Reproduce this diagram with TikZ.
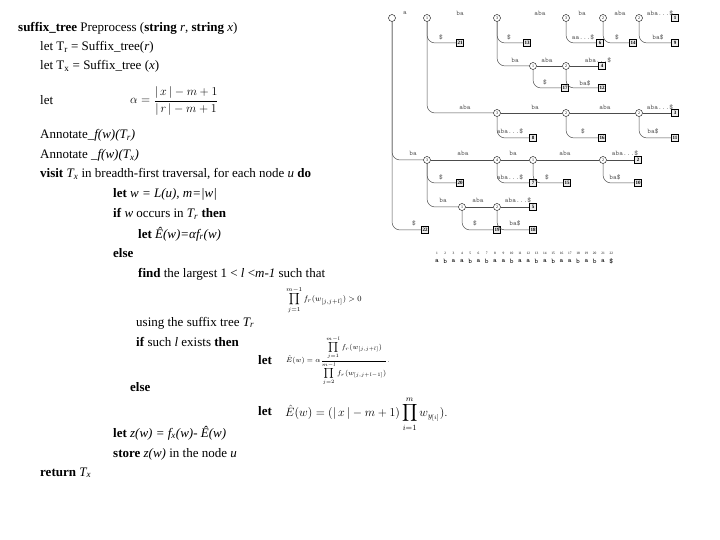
\documentclass[tikz,border=0pt]{standalone}
\usepackage{fontspec}
\setmainfont{Liberation Serif}
\usepackage{amsmath}
\begin{document}
\begin{tikzpicture}[x=1pt,y=-1pt,
  txt/.style={anchor=base west,inner sep=0pt,font=\fontsize{13}{15}\selectfont},
  circ/.style={draw,circle,inner sep=0pt,minimum size=7pt,font=\fontsize{4}{4}\selectfont},
  leaf/.style={draw,fill=gray!15,inner sep=0.6pt,minimum size=7pt,font=\fontsize{5}{5}\selectfont\bfseries},
  lab/.style={font=\fontsize{7}{7}\selectfont\ttfamily,inner sep=0pt,gray!70!black},
  edge/.style={gray!60!black,line width=0.5pt},
  cedge/.style={edge,rounded corners=8pt}]
\useasboundingbox (0,0) rectangle (720,540);
% ---------- left text ----------
\node[txt] (t1) at (18,32) {\textbf{suffix\_tree} Preprocess (\textbf{string} \textit{r}, \textbf{string} \textit{x})};
\node[txt] (t2) at (40,51) {let T\textsubscript{r} = Suffix\_tree(\textit{r})};
\node[txt] (t3) at (40,70) {let T\textsubscript{x} = Suffix\_tree (\textit{x})};
\node[txt] (t4) at (40,105) {let};
\node[anchor=west,inner sep=0pt,font=\large] (fa) at (130,101) {$\alpha = \dfrac{|\,x\,| - m + 1}{|\,r\,| - m + 1}$};
\node[txt] (t5) at (40,139) {Annotate\_\textit{f(w)(T\textsubscript{r})}};
\node[txt] (t6) at (40,159) {Annotate \_\textit{f(w)(T\textsubscript{x})}};
\node[txt] (t7) at (40,178) {\textbf{visit} \textit{T\textsubscript{x}} in breadth-first traversal, for each node \textit{u} \textbf{do}};
\node[txt] (t8) at (113,198) {\textbf{let} \textit{w = L(u), m=|w|}};
\node[txt] (t9) at (113,218) {\textbf{if} \textit{w} occurs in \textit{T\textsubscript{r}} \textbf{then}};
\node[txt] (t10) at (138,238) {\textbf{let} \textit{Ê(w)=αf\textsubscript{r}(w)}};
\node[txt] (t11) at (113,257) {\textbf{else}};
\node[txt] (t12) at (138,277) {\textbf{find} the largest 1 < \textit{l} <\textit{m-1} such that};
\node[anchor=west,inner sep=0pt,font=\footnotesize] (f2) at (286,300) {$\displaystyle\prod_{j=1}^{m-1} f_r(w_{[j,j+l]}) > 0$};
\node[txt] (t13) at (136,326) {using the suffix tree \textit{T\textsubscript{r}}};
\node[txt] (t14) at (136,346) {\textbf{if} such \textit{l} exists \textbf{then}};
\node[txt] (t15) at (258,364) {\textbf{let}};
\node[anchor=west,inner sep=0pt,font=\scriptsize] (f3) at (286,361) {$\hat E(w)=\alpha\dfrac{\displaystyle\prod_{j=1}^{m-l} f_r(w_{[j,j+l]})}{\displaystyle\prod_{j=2}^{m-l} f_r(w_{[j,j+l-1]})}.$};
\node[txt] (t16) at (130,391) {\textbf{else}};
\node[txt] (t17) at (258,415) {\textbf{let}};
\node[anchor=west,inner sep=0pt,font=\large] (f4) at (285,414) {$\displaystyle\hat E(w)=(|\,x\,|-m+1)\prod_{i=1}^{m} w_{y_{[i]}}).$};
\node[txt] (t18) at (113,437) {\textbf{let} \textit{z(w) = f\textsubscript{x}(w)- Ê(w)}};
\node[txt] (t19) at (113,457) {\textbf{store} \textit{z(w)} in the node \textit{u}};
\node[txt] (t20) at (40,476) {\textbf{return} \textit{T\textsubscript{x}}};
% ---------- suffix tree ----------
\node[circ] (r) at (392,18) {};
\node[circ] (a1) at (427,18) {1};
\node[circ] (a2) at (497,18) {3};
\node[circ] (a3) at (566,18) {3};
\node[circ] (a4) at (603,18) {2};
\node[circ] (a5) at (639,18) {2};
\node[leaf] (l1) at (675,18) {1};
\node[leaf] (l21) at (460,43) {21};
\node[leaf] (l13) at (527,43) {13};
\node[leaf] (l6) at (600,43) {6};
\node[leaf] (l14) at (633,43) {14};
\node[leaf] (l9) at (675,43) {9};
\node[circ] (b1) at (533,66) {1};
\node[circ] (b2) at (566,66) {2};
\node[leaf] (l4) at (602,66) {4};
\node[leaf] (l17) at (565,88) {17};
\node[leaf] (l12) at (602,88) {12};
\node[circ] (c1) at (497,113) {3};
\node[circ] (c2) at (566,113) {2};
\node[circ] (c3) at (639,113) {2};
\node[leaf] (l3) at (675,113) {3};
\node[leaf] (l8) at (533,138) {8};
\node[leaf] (l16) at (602,138) {16};
\node[leaf] (l11) at (675,138) {11};
\node[circ] (d1) at (427,160) {3};
\node[circ] (d2) at (497,160) {4};
\node[circ] (d3) at (533,160) {1};
\node[circ] (d4) at (603,160) {2};
\node[leaf] (l2) at (638,160) {2};
\node[leaf] (l20) at (460,183) {20};
\node[leaf] (l7) at (533,183) {7};
\node[leaf] (l15) at (567,183) {15};
\node[leaf] (l10) at (638,183) {10};
\node[circ] (e1) at (462,207) {1};
\node[circ] (e2) at (497,207) {2};
\node[leaf] (l5) at (533,207) {5};
\node[leaf] (l22) at (425,230) {22};
\node[leaf] (l19) at (497,230) {19};
\node[leaf] (l18) at (533,230) {18};
% horizontal edges
\draw[edge] (c1)--(c2); \draw[edge] (c2)--(c3); \draw[edge] (c3)--(l3);
\draw[edge] (b1)--(b2); \draw[edge] (b2)--(l4);
\draw[edge] (d1)--(d2); \draw[edge] (d2)--(d3); \draw[edge] (d3)--(d4); \draw[edge] (d4)--(l2);
\draw[edge] (e1)--(e2); \draw[edge] (e2)--(l5);
% curved edges
\draw[cedge] (a1) |- (l21);
\draw[cedge] (a1) |- (c1);
\draw[cedge] (a2) |- (l13);
\draw[cedge] (a2) |- (b1);
\draw[cedge] (a3) |- (l6);
\draw[cedge] (a4) |- (l14);
\draw[cedge] (a5) |- (l9);
\draw[cedge] (b1) |- (l17);
\draw[cedge] (b2) |- (l12);
\draw[cedge] (c1) |- (l8);
\draw[cedge] (c2) |- (l16);
\draw[cedge] (c3) |- (l11);
\draw[cedge] (r) |- (d1);
\draw[cedge] (r) |- (l22);
\draw[cedge] (d1) |- (l20);
\draw[cedge] (d1) |- (e1);
\draw[cedge] (d2) |- (l7);
\draw[cedge] (d3) |- (l15);
\draw[cedge] (d4) |- (l10);
\draw[cedge] (e1) |- (l19);
\draw[cedge] (e2) |- (l18);
% edge labels
\node[lab] at (405,13) {a};
\node[lab] at (460,13) {ba};
\node[lab] at (540,13) {aba};
\node[lab] at (582,13) {ba};
\node[lab] at (620,13) {aba};
\node[lab] at (660,13) {aba...\$};
\node[lab] at (441,37) {\$};
\node[lab] at (509,37) {\$};
\node[lab] at (583,37) {aa...\$};
\node[lab] at (617,37) {\$};
\node[lab] at (658,37) {ba\$};
\node[lab] at (515,60) {ba};
\node[lab] at (547,60) {aba};
\node[lab] at (598,60) {aba...\$};
\node[lab] at (545,82) {\$};
\node[lab] at (585,83) {ba\$};
\node[lab] at (465,107) {aba};
\node[lab] at (535,107) {ba};
\node[lab] at (605,107) {aba};
\node[lab] at (660,107) {aba...\$};
\node[lab] at (510,131) {aba...\$};
\node[lab] at (583,131) {\$};
\node[lab] at (653,131) {ba\$};
\node[lab] at (413,153) {ba};
\node[lab] at (463,153) {aba};
\node[lab] at (513,153) {ba};
\node[lab] at (565,153) {aba};
\node[lab] at (625,153) {aba...\$};
\node[lab] at (441,177) {\$};
\node[lab] at (510,177) {aba...\$};
\node[lab] at (547,177) {\$};
\node[lab] at (615,177) {ba\$};
\node[lab] at (443,200) {ba};
\node[lab] at (478,200) {aba};
\node[lab] at (518,200) {aba...\$};
\node[lab] at (414,223) {\$};
\node[lab] at (475,223) {\$};
\node[lab] at (515,223) {ba\$};
% index string
\foreach \c [count=\i] in {a,b,a,a,b,a,b,a,a,b,a,a,b,a,b,a,a,b,a,b,a,\$} {
  \node[font=\fontsize{3.5}{4}\selectfont,inner sep=0pt] at ({437+(\i-1)*8.3},253) {\i};
  \node[font=\fontsize{7}{7}\selectfont\ttfamily,inner sep=0pt] at ({437+(\i-1)*8.3},261) {\c};
}
\end{tikzpicture}
\end{document}
